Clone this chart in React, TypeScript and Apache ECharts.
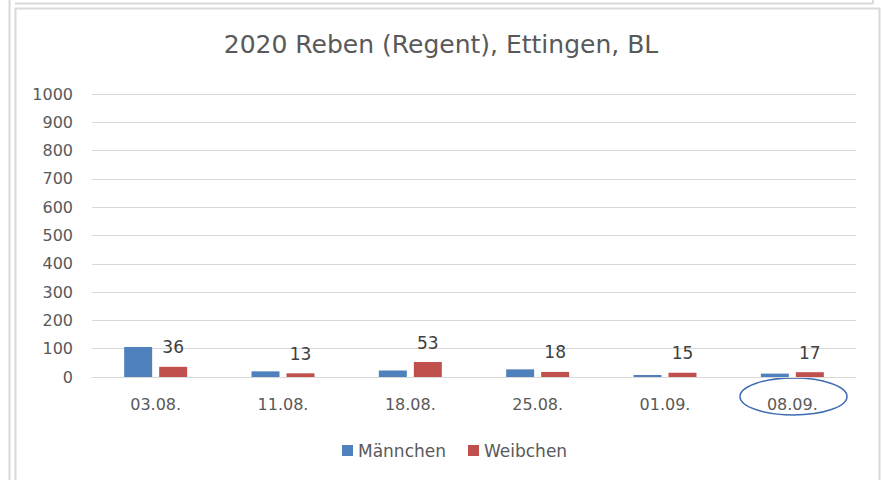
import React, { useEffect, useRef } from "react";
import * as echarts from "echarts";

const titleText = "2020 Reben (Regent), Ettingen, BL";
const categories = ["03.08.", "11.08.", "18.08.", "25.08.", "01.09.", "08.09."];
const maennchen = [106, 20, 23, 27, 7, 12];
const weibchen = [36, 13, 53, 18, 15, 17];
const seriesNames = ["Männchen", "Weibchen"];
const yMin = 0;
const yMax = 1000;
const yStep = 100;

const FONT = "DejaVu Sans";
const GRAY = "#595959";
const BORDER = "#d9d9d9";

export default function App() {
  const ref = useRef<HTMLDivElement>(null);
  useEffect(() => {
    if (!ref.current) return;
    const chart = echarts.init(ref.current, null, { renderer: "svg" });
    chart.setOption({
      animation: false,
      backgroundColor: "#ffffff",
      title: {
        text: titleText,
        left: "center",
        top: 32,
        padding: 0,
        textStyle: { fontFamily: FONT, fontSize: 25, fontWeight: "normal", color: GRAY },
      },
      legend: {
        bottom: 16,
        left: 337,
        icon: "rect",
        itemWidth: 11,
        itemHeight: 11,
        itemGap: 22,
        textStyle: { fontFamily: FONT, fontSize: 17, color: GRAY },
        data: seriesNames,
      },
      grid: { left: 92, right: 26, top: 94, bottom: 103 },
      xAxis: {
        type: "category",
        data: categories,
        axisLine: { lineStyle: { color: BORDER } },
        axisTick: { show: false },
        axisLabel: { fontFamily: FONT, fontSize: 16, color: GRAY, margin: 19 },
      },
      yAxis: {
        type: "value",
        min: yMin,
        max: yMax,
        interval: yStep,
        axisLine: { show: false },
        axisTick: { show: false },
        splitLine: { lineStyle: { color: BORDER, width: 1 } },
        axisLabel: {
          fontFamily: FONT,
          fontSize: 16,
          color: GRAY,
          margin: 19,
          formatter: (v: number) => String(v),
        },
      },
      series: [
        {
          name: seriesNames[0],
          type: "bar",
          data: maennchen,
          barWidth: 28,
          barGap: "25%",
          itemStyle: { color: "#4f81bd" },
        },
        {
          name: seriesNames[1],
          type: "bar",
          data: weibchen,
          barWidth: 28,
          barGap: "25%",
          itemStyle: { color: "#c0504d" },
          label: {
            show: true,
            position: "top",
            distance: 11,
            fontFamily: FONT,
            fontSize: 17,
            color: "#404040",
          },
        },
      ],
      graphic: [
        { type: "line", shape: { x1: 9.5, y1: 0, x2: 9.5, y2: 480 }, style: { stroke: BORDER, lineWidth: 2 }, silent: true },
        { type: "line", shape: { x1: 15, y1: 3.5, x2: 873, y2: 3.5 }, style: { stroke: BORDER, lineWidth: 2 }, silent: true },
        { type: "line", shape: { x1: 873, y1: 0, x2: 873, y2: 4 }, style: { stroke: BORDER, lineWidth: 2 }, silent: true },
        { type: "rect", shape: { x: 15.5, y: 8.5, width: 864, height: 480 }, style: { fill: "none", stroke: BORDER, lineWidth: 2 }, silent: true },
        { type: "ellipse", shape: { cx: 793.5, cy: 396.5, rx: 53.5, ry: 18.5 }, style: { fill: "none", stroke: "#3d6cb4", lineWidth: 1.5 }, silent: true },
      ],
    });
    return () => chart.dispose();
  }, []);
  return (
    <div
      ref={ref}
      style={{ position: "absolute", left: 0, top: 0, width: 882, height: 480 }}
    />
  );
}
